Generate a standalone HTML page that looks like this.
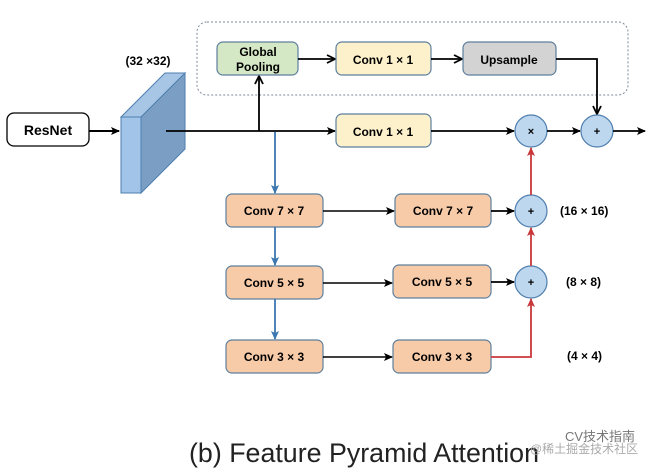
<!DOCTYPE html>
<html><head><meta charset="utf-8"><style>
html,body{margin:0;padding:0;background:#fff;}
svg{display:block;}
text{font-family:"Liberation Sans","Noto Sans CJK SC",sans-serif;}
</style></head><body>
<svg width="669" height="472" viewBox="0 0 669 472" xmlns="http://www.w3.org/2000/svg">
<defs>
<marker id="ak" markerWidth="9" markerHeight="9" refX="8" refY="4.5" orient="auto" markerUnits="userSpaceOnUse"><path d="M0,0.5 L9,4.5 L0,8.5 L2,4.5 Z" fill="#000"/></marker>
<marker id="ao" markerWidth="10" markerHeight="10" refX="9" refY="5" orient="auto" markerUnits="userSpaceOnUse"><path d="M1,1 L9,5 L1,9" fill="none" stroke="#000" stroke-width="1.8"/></marker>
<marker id="ab" markerWidth="9" markerHeight="9" refX="8" refY="4.5" orient="auto" markerUnits="userSpaceOnUse"><path d="M0,0.5 L9,4.5 L0,8.5 L2,4.5 Z" fill="#3b77b0"/></marker>
<marker id="ar" markerWidth="9" markerHeight="9" refX="8" refY="4.5" orient="auto" markerUnits="userSpaceOnUse"><path d="M0,0.5 L9,4.5 L0,8.5 L2,4.5 Z" fill="#c9383b"/></marker>
</defs>
<rect x="197" y="22" width="431" height="73" rx="10" fill="none" stroke="#7d8a99" stroke-width="1" stroke-dasharray="2,2"/>
<rect x="7" y="113" width="82" height="33" rx="7" fill="#fff" stroke="#000" stroke-width="1.3"/>
<text x="48" y="135" font-size="14" font-weight="bold" text-anchor="middle">ResNet</text>
<line x1="89" y1="131" x2="119" y2="131" stroke="#000" stroke-width="2" marker-end="url(#ak)"/>
<polygon points="141,117 185,73 185,149 141,193" fill="#7b9fc4" stroke="#4f7fae" stroke-width="1"/>
<polygon points="121,117 165,73 185,73 141,117" fill="#a7c6e6" stroke="#4f7fae" stroke-width="1"/>
<rect x="121" y="117" width="20" height="76" fill="#a2c4e8" stroke="#4f7fae" stroke-width="1"/>
<text x="148" y="65" font-size="12" font-weight="bold" text-anchor="middle">(32 ×32)</text>
<line x1="166" y1="131" x2="335" y2="131" stroke="#000" stroke-width="1.8" marker-end="url(#ak)"/>
<line x1="259" y1="131" x2="259" y2="76" stroke="#000" stroke-width="1.8" marker-end="url(#ao)"/>
<line x1="275" y1="132" x2="275" y2="193" stroke="#3b77b0" stroke-width="1.8" marker-end="url(#ab)"/>
<rect x="217" y="42" width="81" height="33" rx="6" fill="#d5e8c5" stroke="#5d7f9e" stroke-width="1.2"/>
<text x="258" y="56" font-size="12" font-weight="bold" text-anchor="middle">Global</text>
<text x="258" y="71" font-size="12" font-weight="bold" text-anchor="middle">Pooling</text>
<line x1="298" y1="59" x2="335" y2="59" stroke="#000" stroke-width="1.8" marker-end="url(#ao)"/>
<rect x="336" y="42" width="95" height="33" rx="6" fill="#fdf1cc" stroke="#5d7f9e" stroke-width="1.2"/>
<text x="383" y="64" font-size="12" font-weight="bold" text-anchor="middle">Conv 1 × 1</text>
<line x1="431" y1="59" x2="462" y2="59" stroke="#000" stroke-width="1.8" marker-end="url(#ao)"/>
<rect x="463" y="42" width="93" height="33" rx="6" fill="#d3d3d3" stroke="#5d7f9e" stroke-width="1.2"/>
<text x="509" y="64" font-size="12" font-weight="bold" text-anchor="middle">Upsample</text>
<polyline points="556,59 597,59 597,114" fill="none" stroke="#000" stroke-width="1.8" marker-end="url(#ao)"/>
<rect x="336" y="114" width="95" height="33" rx="6" fill="#fdf1cc" stroke="#5d7f9e" stroke-width="1.2"/>
<text x="383" y="136" font-size="12" font-weight="bold" text-anchor="middle">Conv 1 × 1</text>
<line x1="431" y1="131" x2="514" y2="131" stroke="#000" stroke-width="1.8" marker-end="url(#ak)"/>
<circle cx="531" cy="131" r="16" fill="#bdd7ee" stroke="#4f7fae" stroke-width="1.2"/>
<text x="531" y="135" font-size="11" font-weight="bold" text-anchor="middle">×</text>
<line x1="547" y1="131" x2="580" y2="131" stroke="#000" stroke-width="1.8" marker-end="url(#ak)"/>
<circle cx="597" cy="131" r="16" fill="#bdd7ee" stroke="#4f7fae" stroke-width="1.2"/>
<text x="597" y="135" font-size="11" font-weight="bold" text-anchor="middle">+</text>
<line x1="613" y1="131" x2="645" y2="131" stroke="#000" stroke-width="1.8" marker-end="url(#ak)"/>
<g font-size="12" font-weight="bold" text-anchor="middle">
<rect x="226" y="194" width="97" height="33" rx="6" fill="#f8cba8" stroke="#5d7f9e" stroke-width="1.2"/>
<text x="274" y="215">Conv 7 × 7</text>
<rect x="395" y="194" width="96" height="33" rx="6" fill="#f8cba8" stroke="#5d7f9e" stroke-width="1.2"/>
<text x="443" y="215">Conv 7 × 7</text>
<rect x="226" y="266" width="97" height="33" rx="6" fill="#f8cba8" stroke="#5d7f9e" stroke-width="1.2"/>
<text x="274" y="287">Conv 5 × 5</text>
<rect x="393" y="265" width="98" height="33" rx="6" fill="#f8cba8" stroke="#5d7f9e" stroke-width="1.2"/>
<text x="442" y="286">Conv 5 × 5</text>
<rect x="226" y="340" width="97" height="33" rx="6" fill="#f8cba8" stroke="#5d7f9e" stroke-width="1.2"/>
<text x="274" y="361">Conv 3 × 3</text>
<rect x="393" y="340" width="98" height="33" rx="6" fill="#f8cba8" stroke="#5d7f9e" stroke-width="1.2"/>
<text x="442" y="361">Conv 3 × 3</text>
</g>
<line x1="275" y1="227" x2="275" y2="265" stroke="#3b77b0" stroke-width="1.8" marker-end="url(#ab)"/>
<line x1="275" y1="299" x2="275" y2="339" stroke="#3b77b0" stroke-width="1.8" marker-end="url(#ab)"/>
<line x1="323" y1="211" x2="394" y2="211" stroke="#000" stroke-width="1.5" marker-end="url(#ak)"/>
<line x1="323" y1="283" x2="392" y2="283" stroke="#000" stroke-width="1.5" marker-end="url(#ak)"/>
<line x1="323" y1="357" x2="392" y2="357" stroke="#000" stroke-width="1.5" marker-end="url(#ak)"/>
<line x1="491" y1="211" x2="514" y2="211" stroke="#000" stroke-width="1.8" marker-end="url(#ak)"/>
<line x1="491" y1="282" x2="514" y2="282" stroke="#000" stroke-width="1.8" marker-end="url(#ak)"/>
<circle cx="531" cy="211" r="16" fill="#bdd7ee" stroke="#4f7fae" stroke-width="1.2"/>
<text x="531" y="215" font-size="11" font-weight="bold" text-anchor="middle">+</text>
<circle cx="531" cy="282" r="16" fill="#bdd7ee" stroke="#4f7fae" stroke-width="1.2"/>
<text x="531" y="286" font-size="11" font-weight="bold" text-anchor="middle">+</text>
<polyline points="491,357 531,357 531,299" fill="none" stroke="#c9383b" stroke-width="1.8" marker-end="url(#ar)"/>
<line x1="531" y1="266" x2="531" y2="228" stroke="#c9383b" stroke-width="1.8" marker-end="url(#ar)"/>
<line x1="531" y1="195" x2="531" y2="148" stroke="#c9383b" stroke-width="1.8" marker-end="url(#ar)"/>
<g font-size="12" font-weight="bold">
<text x="560" y="215">(16 × 16)</text>
<text x="566" y="286">(8 × 8)</text>
<text x="567" y="360">(4 × 4)</text>
</g>
<text x="189" y="462" font-size="27" fill="#222" textLength="350" lengthAdjust="spacingAndGlyphs">(b) Feature Pyramid Attention</text>
<text x="565" y="441" font-size="13" fill="#777">CV技术指南</text>
<text x="530" y="453" font-size="12" fill="#aaa">@稀土掘金技术社区</text>
</svg>
</body></html>
